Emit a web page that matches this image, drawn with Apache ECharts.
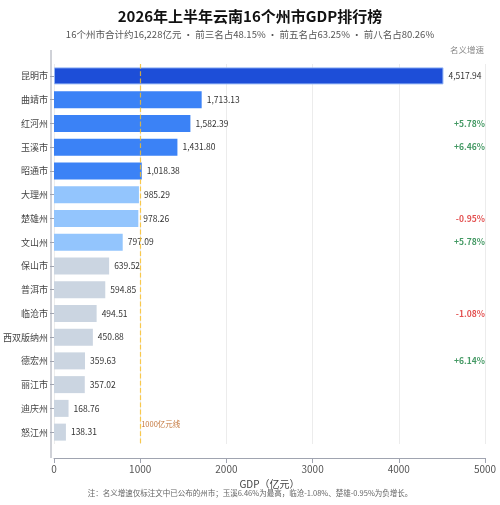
<!DOCTYPE html>
<html><head><meta charset="utf-8">
<script src="https://cdn.jsdelivr.net/npm/echarts@6/dist/echarts.min.js"></script>
<style>html,body{margin:0;padding:0;background:#fff}#c{width:500px;height:505px}</style>
</head><body><div id="c"></div>
<script>
var categories=['昆明市','曲靖市','红河州','玉溪市','昭通市','大理州','楚雄州','文山州','保山市','普洱市','临沧市','西双版纳州','德宏州','丽江市','迪庆州','怒江州'];
var gdpValues=[4517.94,1713.13,1582.39,1431.80,1018.38,985.29,978.26,797.09,639.52,594.85,494.51,450.88,359.63,357.02,168.76,138.31];
var growth=['','','+5.78%','+6.46%','','','-0.95%','+5.78%','','','-1.08%','','+6.14%','','',''];
var xTicks=[0,1000,2000,3000,4000,5000];
function col(i){return i===0?'#1d4ed8':i<5?'#3b82f6':i<8?'#93c5fd':'#cbd5e1';}
var chart=echarts.init(document.getElementById('c'));
chart.setOption({
 animation:false,
 textStyle:{fontFamily:'Noto Sans CJK SC'},
 title:{text:'2026年上半年云南16个州市GDP排行榜',left:'center',top:4,
  textStyle:{fontSize:15,fontWeight:'bold',color:'#111'},
  subtext:'16个州市合计约16,228亿元 · 前三名占48.15% · 前五名占63.25% · 前八名占80.26%',
  subtextStyle:{fontSize:9.5,color:'#555'},itemGap:6},
 graphic:[{type:'text',right:16,top:46,style:{text:'名义增速',fontSize:8.5,fill:'#888',fontFamily:'Noto Sans CJK SC'}},
  {type:'text',left:'center',top:489,style:{text:'注：名义增速仅标注文中已公布的州市；玉溪6.46%为最高，临沧-1.08%、楚雄-0.95%为负增长。',fontSize:7.5,fill:'#666',fontFamily:'Noto Sans CJK SC'}},
  {type:'line',shape:{x1:51,y1:50,x2:51,y2:458},style:{stroke:'#a0a4b0',lineWidth:1}}],
 grid:{left:51,right:15,top:64,bottom:61},
 xAxis:{type:'value',min:0,max:5000,interval:1000,offset:14,
  name:'GDP（亿元）',nameLocation:'middle',nameGap:20,nameTextStyle:{fontSize:10,color:'#444'},
  axisLine:{show:true,lineStyle:{color:'#a0a4b0'}},axisTick:{show:true,lineStyle:{color:'#a0a4b0'}},
  axisLabel:{fontSize:10,color:'#555',margin:6,formatter:function(v){return String(v);}},
  splitLine:{lineStyle:{color:'#ececec'}}},
 yAxis:{type:'category',inverse:true,data:categories,
  axisLine:{show:false},
  axisTick:{show:true,alignWithLabel:true,length:4,lineStyle:{color:'#a0a4b0'}},
  axisLabel:{fontSize:9,color:'#444',margin:6}},
 series:[{type:'bar',barWidth:17,
  data:gdpValues.map(function(v,i){return {value:v,itemStyle:{color:col(i),borderColor:i===0?'#93b4f5':'transparent',borderWidth:i===0?1:0}};}),
  label:{show:true,position:'right',fontSize:8.5,color:'#333',distance:5,
   formatter:function(p){return p.value.toLocaleString('en-US',{minimumFractionDigits:2,maximumFractionDigits:2});}},
  markLine:{silent:true,symbol:'none',lineStyle:{color:'#fbbf24',type:'dashed',width:1.2,opacity:0.8},
   label:{show:false},data:[{xAxis:1000}]}},
  {type:'scatter',symbolSize:0,silent:true,
   data:[[1000,categories.length-1]],
   label:{show:true,position:'right',distance:1,offset:[0,-8],fontSize:7.5,color:'#b45309',formatter:'1000亿元线'}},
  {type:'scatter',symbolSize:0,silent:true,
   data:growth.map(function(g,i){return {value:[5000,i],label:{color:g.charAt(0)==='-'?'#dc2626':'#15803d'}};}),
   label:{show:true,position:'left',distance:0,fontSize:8.5,fontWeight:'bold',formatter:function(p){return growth[p.dataIndex];}}}]
});
</script></body></html>
